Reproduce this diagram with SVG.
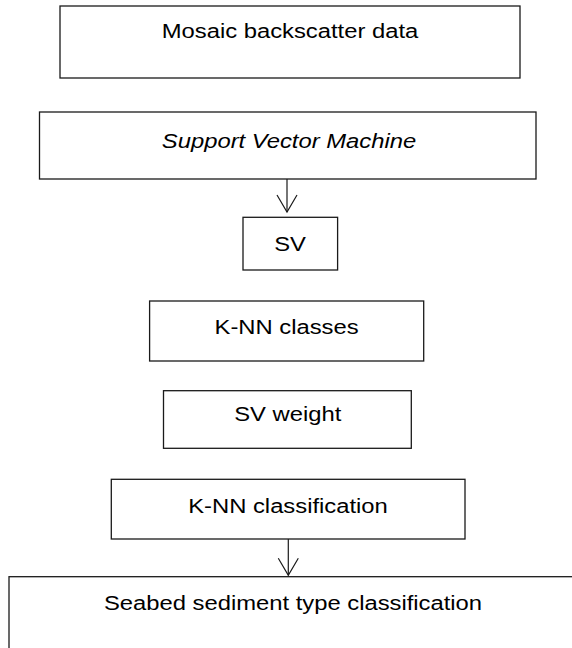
<svg xmlns="http://www.w3.org/2000/svg" width="572" height="648" viewBox="0 0 572 648">
<style>
.box{fill:#fff;stroke:#1a1a1a;stroke-width:1.3}
.t{font-family:"Liberation Sans",Arial,sans-serif;font-size:20px;fill:#000;text-anchor:middle}
.it{font-style:italic}
.c{fill:none;stroke:#1a1a1a;stroke-width:1.2}
</style>
<defs>
<marker id="v" markerUnits="userSpaceOnUse" markerWidth="22" markerHeight="24" viewBox="-19 -12 22 24" refX="0" refY="0" orient="auto">
<path d="M-17,-10 L0,0 L-17,10" fill="none" stroke="#1a1a1a" stroke-width="1.2"/>
</marker>
</defs>
<rect width="572" height="648" fill="#fff"/>
<g id="n1"><rect class="box" x="60" y="6" width="460" height="72"/><text class="t" transform="translate(290 38.3) scale(1.19 1)">Mosaic backscatter data</text></g>
<g id="n2"><rect class="box" x="39.5" y="112" width="496.5" height="67"/><text class="t it" transform="translate(289 148.3) scale(1.19 1)">Support Vector Machine</text></g>
<g id="n3"><rect class="box" x="243" y="217.3" width="94.6" height="52.7"/><text class="t" transform="translate(290 251) scale(1.19 1)">SV</text></g>
<g id="n4"><rect class="box" x="149.6" y="301" width="274.1" height="60"/><text class="t" transform="translate(286.6 334) scale(1.19 1)">K-NN classes</text></g>
<g id="n5"><rect class="box" x="163.5" y="390.7" width="247.8" height="57.6"/><text class="t" transform="translate(287.8 421) scale(1.19 1)">SV weight</text></g>
<g id="n6"><rect class="box" x="111.3" y="479.3" width="353.7" height="59.7"/><text class="t" transform="translate(288 513) scale(1.19 1)">K-NN classification</text></g>
<g id="n7"><rect class="box" x="9" y="576.7" width="600" height="120"/><text class="t" transform="translate(293 610) scale(1.19 1)">Seabed sediment type classification</text></g>
<g id="connectors">
<path class="c" d="M287,179 L287,212" marker-end="url(#v)"/>
<path class="c" d="M288.3,539 L288.3,575.3" marker-end="url(#v)"/>
</g>
</svg>
